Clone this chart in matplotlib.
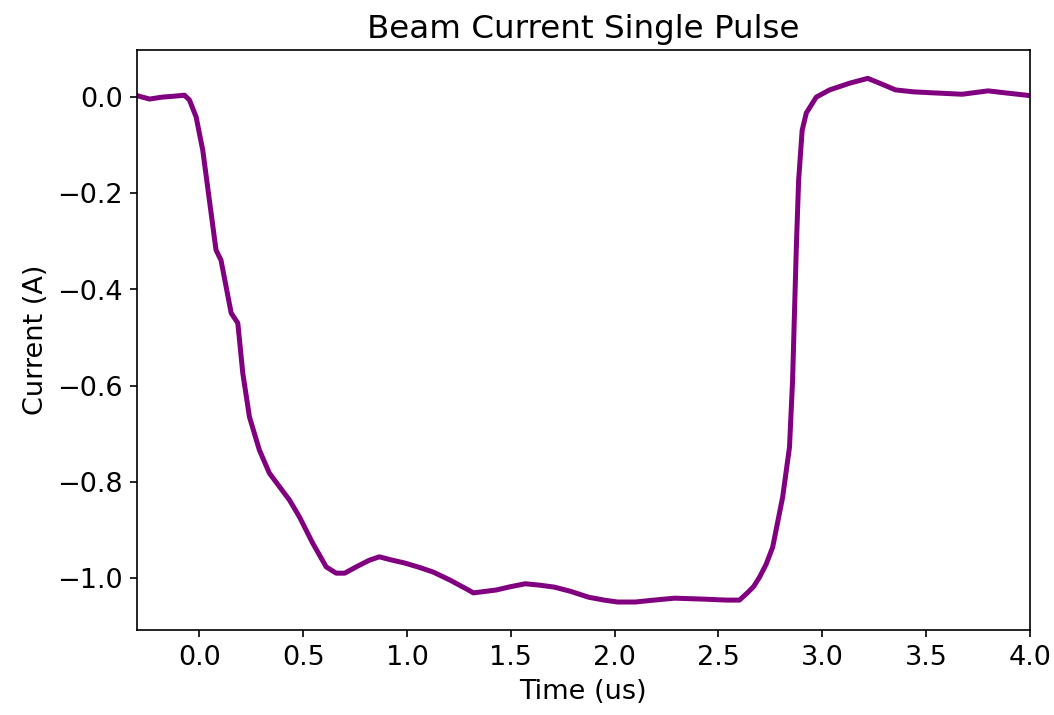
import numpy as np
import matplotlib.pyplot as plt

plt.rcParams['font.size'] = 13

# Beam current trace (time in us, current in A)
time_us = [-0.30, -0.24, -0.18, -0.12, -0.072, -0.048, -0.016, 0.016, 0.048, 0.08,
           0.104, 0.153, 0.185, 0.209, 0.241, 0.289, 0.337, 0.434, 0.482, 0.545,
           0.611, 0.659, 0.70, 0.755, 0.819, 0.867, 0.92, 0.99, 1.06, 1.128,
           1.21, 1.296, 1.32, 1.43, 1.50, 1.57, 1.64, 1.71, 1.79, 1.875,
           1.95, 2.015, 2.1, 2.19, 2.29, 2.36, 2.43, 2.54, 2.602, 2.64,
           2.67, 2.699, 2.73, 2.762, 2.81, 2.843, 2.858, 2.867, 2.876, 2.887,
           2.904, 2.924, 2.972, 3.036, 3.133, 3.22, 3.277, 3.354, 3.44, 3.53,
           3.675, 3.80, 3.90, 3.985, 4.0]
current_a = [0.003, -0.004, 0.0, 0.002, 0.004, -0.006, -0.041, -0.11, -0.214, -0.318,
             -0.339, -0.449, -0.47, -0.574, -0.665, -0.734, -0.782, -0.838, -0.873, -0.927,
             -0.977, -0.99, -0.99, -0.977, -0.963, -0.956, -0.962, -0.969, -0.978, -0.988,
             -1.005, -1.025, -1.031, -1.025, -1.018, -1.012, -1.015, -1.019, -1.028, -1.04,
             -1.046, -1.05, -1.05, -1.046, -1.042, -1.043, -1.044, -1.046, -1.046, -1.031,
             -1.018, -0.998, -0.972, -0.936, -0.832, -0.728, -0.588, -0.449, -0.312, -0.173,
             -0.069, -0.033, 0.0, 0.015, 0.029, 0.039, 0.029, 0.015, 0.011, 0.009,
             0.006, 0.013, 0.008, 0.004, 0.003]

fig = plt.figure(figsize=(7.033, 4.767), dpi=150)
fig.subplots_adjust(left=0.13, right=0.976, top=0.93, bottom=0.119)
ax = fig.add_subplot(111)

ax.plot(time_us, current_a, color='purple', linewidth=2.4)
ax.set_xlim(-0.3, 4.0)
ax.set_ylim(-1.108, 0.098)
ax.set_xlabel('Time (us)')
ax.set_ylabel('Current (A)')
ax.set_title('Beam Current Single Pulse')

plt.savefig('out.png', dpi=150)
